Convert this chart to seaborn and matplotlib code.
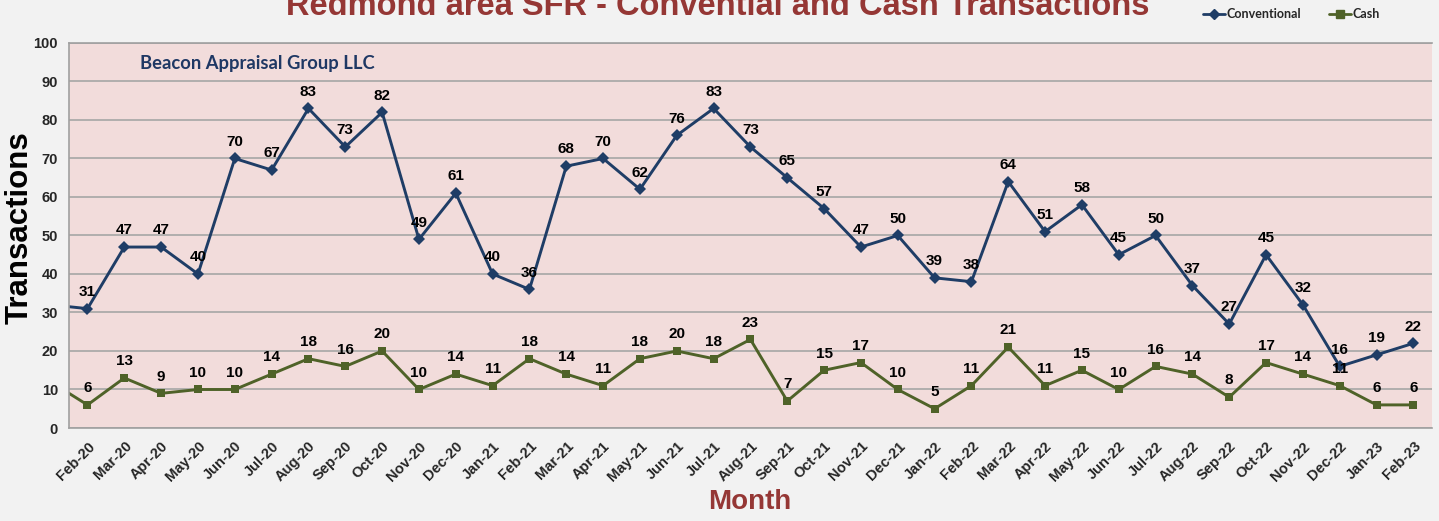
import numpy as np
import pandas as pd
import matplotlib
matplotlib.use("Agg")
import matplotlib.pyplot as plt
import seaborn as sns
from matplotlib.lines import Line2D

# data (Jan-20 sits just outside the visible range)
months = ["Jan-20", "Feb-20", "Mar-20", "Apr-20", "May-20", "Jun-20", "Jul-20", "Aug-20", "Sep-20",
          "Oct-20", "Nov-20", "Dec-20", "Jan-21", "Feb-21", "Mar-21", "Apr-21", "May-21",
          "Jun-21", "Jul-21", "Aug-21", "Sep-21", "Oct-21", "Nov-21", "Dec-21", "Jan-22",
          "Feb-22", "Mar-22", "Apr-22", "May-22", "Jun-22", "Jul-22", "Aug-22", "Sep-22",
          "Oct-22", "Nov-22", "Dec-22", "Jan-23", "Feb-23"]
conventional = [32, 31, 47, 47, 40, 70, 67, 83, 73, 82, 49, 61, 40, 36, 68, 70, 62, 76, 83, 73,
                65, 57, 47, 50, 39, 38, 64, 51, 58, 45, 50, 37, 27, 45, 32, 16, 19, 22]
cash = [12, 6, 13, 9, 10, 10, 14, 18, 16, 20, 10, 14, 11, 18, 14, 11, 18, 20, 18, 23,
        7, 15, 17, 10, 5, 11, 21, 11, 15, 10, 16, 14, 8, 17, 14, 11, 6, 6]

idx = np.arange(len(months))
df = pd.DataFrame({'idx': np.concatenate([idx, idx]),
                   'value': conventional + cash,
                   'series': ['Conventional'] * len(idx) + ['Cash'] * len(idx)})

sns.set_style("white")
plt.rcParams['font.family'] = ['Liberation Sans', 'DejaVu Sans']

navy = '#1f3d66'
olive = '#4f6228'
red = '#953735'

fig = plt.figure(figsize=(14.39, 5.21), dpi=100, facecolor='#f2f2f2')
ax = fig.add_axes([0.048, 0.1785, 0.947, 0.739])
ax.set_facecolor('#f2dcdb')

sns.lineplot(data=df, x='idx', y='value', hue='series', style='series',
             palette={'Conventional': navy, 'Cash': olive},
             markers={'Conventional': 'D', 'Cash': 's'}, dashes=False,
             markersize=6, linewidth=2.1, markeredgewidth=0, ax=ax, legend=False)

# data labels
for i in range(1, len(months)):
    ax.annotate(str(conventional[i]), (idx[i], conventional[i]), xytext=(0, 7),
                textcoords='offset points', ha='center', va='bottom',
                fontsize=11, fontweight='bold', color='black')
    ax.annotate(str(cash[i]), (idx[i], cash[i]), xytext=(0, 7),
                textcoords='offset points', ha='center', va='bottom',
                fontsize=11, fontweight='bold', color='black')

ax.set_xlim(0.5, len(months) - 0.5)
ax.set_ylim(0, 100)
ax.set_yticks(range(0, 101, 10))
ax.set_xticks(idx[1:])
ax.set_xticklabels(months[1:], rotation=45, ha='right', rotation_mode='anchor',
                   fontsize=10.5, fontweight='bold')
for t in ax.get_yticklabels():
    t.set_fontweight('bold')
    t.set_fontsize(10.5)
ax.tick_params(length=0, pad=8)
ax.yaxis.grid(True, color='#a6a6a6', linewidth=1.2)
ax.set_axisbelow(True)
for s in ax.spines.values():
    s.set_color('#a0a0a0')
    s.set_linewidth(1.2)
ax.spines['right'].set_visible(False)
ax.set_xlabel('')
ax.set_ylabel('')

ax.text(0.052, 0.947, 'Beacon Appraisal Group LLC', transform=ax.transAxes,
        fontsize=13.2, fontweight='bold', color='#1f3864', family=['Lato', 'DejaVu Sans'],
        va='center', ha='left')

fig.text(0.499, 1 - 15 / 521, 'Redmond area SFR - Convential and Cash Transactions',
         ha='center', va='baseline', fontsize=23.5, fontweight='bold', color=red)
fig.text(0.521, 1 - 502 / 521, 'Month', ha='center', va='center',
         fontsize=20, fontweight='bold', color=red)
fig.text(0.0135, 1 - 228 / 521, 'Transactions', ha='center', va='center', rotation=90,
         fontsize=22.5, fontweight='bold', color='black')

# legend
handles = [Line2D([], [], color=navy, marker='D', markersize=5, linewidth=2),
           Line2D([], [], color=olive, marker='s', markersize=6, linewidth=2)]
leg = fig.legend(handles, ['Conventional', 'Cash'], loc='center left',
                 bbox_to_anchor=(0.828, 1 - 14 / 521), ncol=2, frameon=False,
                 handlelength=1.8, handletextpad=0.1, columnspacing=2.2,
                 prop={'family': ['Lato', 'DejaVu Sans'], 'weight': 'bold', 'size': 9})

fig.savefig('out.png', dpi=100, facecolor=fig.get_facecolor())
